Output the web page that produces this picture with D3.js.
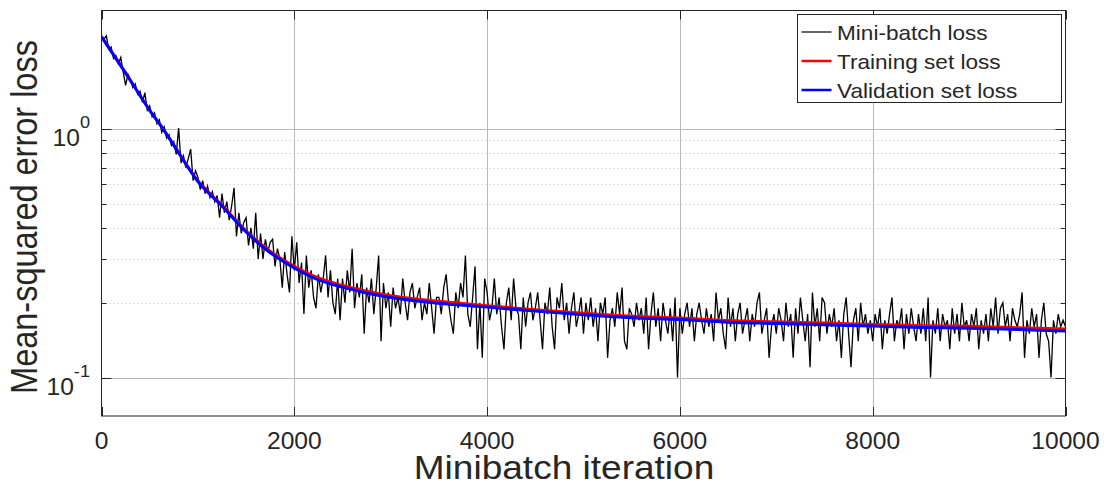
<!DOCTYPE html>
<meta charset="utf-8">
<html><head>
<style>

body { margin: 0; background: #fff; }

text {
  font-family: "Liberation Sans", Arial, sans-serif;
  fill: #262626;
}

.grid line {
  stroke: #b9b9b9;
  stroke-width: 1;
}

.minor line {
  stroke: #d6d6d6;
  stroke-width: 1;
  stroke-dasharray: 1.5,2.5;
}

</style>
</head>
<body>
<svg width="1104" height="486"></svg>
<script src="https://d3js.org/d3.v7.min.js"></script>
<script>

// mini-batch loss, one value every iterStep iterations
var iterStep = 25;
var miniBatchLoss = [
  2.38, 2.30, 2.37, 2.10, 2.14, 1.92, 1.97, 1.83, 1.94, 1.70, 1.50, 1.66, 1.58, 1.47, 1.52, 1.38, 1.42, 1.28, 1.40, 1.19,
  1.24, 1.12, 1.16, 1.05, 1.09, 0.97, 1.02, 0.92, 0.95, 0.86, 0.89, 0.79, 1.01, 0.73, 0.78, 0.70, 0.76, 0.83, 0.62, 0.68,
  0.64, 0.57, 0.62, 0.55, 0.59, 0.53, 0.56, 0.51, 0.54, 0.44, 0.55, 0.46, 0.51, 0.43, 0.49, 0.58, 0.37, 0.46, 0.38, 0.42,
  0.44, 0.34, 0.40, 0.33, 0.46, 0.30, 0.38, 0.30, 0.36, 0.32, 0.35, 0.36, 0.28, 0.33, 0.30, 0.23, 0.32, 0.26, 0.22, 0.37,
  0.27, 0.35, 0.24, 0.29, 0.18, 0.31, 0.23, 0.27, 0.21, 0.19, 0.26, 0.22, 0.25, 0.31, 0.21, 0.27, 0.20, 0.18, 0.25, 0.17,
  0.25, 0.20, 0.27, 0.22, 0.33, 0.19, 0.24, 0.21, 0.26, 0.15, 0.23, 0.20, 0.25, 0.18, 0.23, 0.31, 0.14, 0.24, 0.19, 0.22,
  0.16, 0.23, 0.19, 0.21, 0.18, 0.25, 0.20, 0.17, 0.22, 0.24, 0.19, 0.21, 0.23, 0.17, 0.20, 0.18, 0.24, 0.19, 0.15, 0.21,
  0.21, 0.18, 0.23, 0.26, 0.20, 0.17, 0.15, 0.22, 0.19, 0.24, 0.21, 0.31, 0.18, 0.16, 0.21, 0.28, 0.13, 0.20, 0.12, 0.25,
  0.22, 0.17, 0.19, 0.25, 0.18, 0.21, 0.16, 0.13, 0.20, 0.23, 0.17, 0.25, 0.19, 0.18, 0.13, 0.21, 0.16, 0.20, 0.22, 0.17,
  0.19, 0.22, 0.17, 0.13, 0.20, 0.18, 0.23, 0.16, 0.13, 0.21, 0.19, 0.24, 0.17, 0.20, 0.15, 0.19, 0.22, 0.16, 0.18, 0.21,
  0.15, 0.20, 0.17, 0.21, 0.16, 0.19, 0.14, 0.20, 0.18, 0.21, 0.12, 0.17, 0.19, 0.16, 0.22, 0.18, 0.23, 0.14, 0.13, 0.19,
  0.18, 0.16, 0.20, 0.17, 0.19, 0.15, 0.21, 0.13, 0.18, 0.22, 0.16, 0.19, 0.14, 0.20, 0.17, 0.15, 0.19, 0.14, 0.21, 0.10,
  0.19, 0.15, 0.18, 0.20, 0.16, 0.19, 0.14, 0.18, 0.20, 0.17, 0.15, 0.19, 0.16, 0.18, 0.14, 0.22, 0.17, 0.19, 0.15, 0.13,
  0.21, 0.16, 0.19, 0.14, 0.18, 0.20, 0.15, 0.17, 0.19, 0.14, 0.18, 0.16, 0.20, 0.22, 0.15, 0.17, 0.19, 0.12, 0.16, 0.18,
  0.15, 0.19, 0.17, 0.14, 0.20, 0.16, 0.18, 0.12, 0.19, 0.15, 0.21, 0.17, 0.14, 0.18, 0.11, 0.22, 0.16, 0.19, 0.14, 0.21,
  0.20, 0.15, 0.18, 0.16, 0.19, 0.14, 0.17, 0.12, 0.18, 0.21, 0.15, 0.11, 0.17, 0.19, 0.14, 0.20, 0.16, 0.18, 0.15, 0.17,
  0.14, 0.18, 0.16, 0.19, 0.13, 0.17, 0.15, 0.18, 0.21, 0.14, 0.17, 0.16, 0.19, 0.13, 0.18, 0.15, 0.19, 0.16, 0.14, 0.18,
  0.15, 0.19, 0.14, 0.21, 0.10, 0.17, 0.15, 0.19, 0.14, 0.18, 0.16, 0.17, 0.13, 0.19, 0.15, 0.18, 0.14, 0.20, 0.16, 0.17,
  0.14, 0.18, 0.16, 0.19, 0.13, 0.17, 0.15, 0.18, 0.14, 0.19, 0.16, 0.21, 0.15, 0.19, 0.20, 0.16, 0.18, 0.14, 0.19, 0.17,
  0.16, 0.18, 0.22, 0.12, 0.17, 0.15, 0.19, 0.16, 0.18, 0.12, 0.17, 0.20, 0.15, 0.14, 0.10, 0.17, 0.15, 0.18, 0.16, 0.17, 0.16
];

// smooth curves, sampled at these iterations
var smoothIter = [0, 250, 500, 640, 750, 1000, 1250, 1500, 1750, 2000, 2250, 2500, 2750, 3000,
                  3500, 4000, 4500, 5000, 5500, 6000, 6500, 7000, 7500, 8000, 8500, 9000, 9500, 10000];
var trainingLoss = [2.36, 1.69, 1.19, 1.0, 0.865, 0.62, 0.495, 0.39, 0.323, 0.281, 0.252, 0.235, 0.223, 0.214,
                    0.203, 0.195, 0.188, 0.182, 0.177, 0.174, 0.170, 0.168, 0.166, 0.164, 0.162, 0.161, 0.159, 0.157];
var validationLoss = [2.35, 1.68, 1.19, 1.0, 0.86, 0.615, 0.49, 0.385, 0.318, 0.276, 0.247, 0.231, 0.219, 0.21,
                      0.199, 0.192, 0.185, 0.179, 0.174, 0.171, 0.167, 0.165, 0.163, 0.161, 0.159, 0.158, 0.156, 0.154];

var xTicks = [0, 2000, 4000, 6000, 8000, 10000];
var yMajor = [0.1, 1];
var yMajorExp = ["-1", "0"];
var yMinor = [0.2, 0.3, 0.4, 0.5, 0.6, 0.7, 0.8, 0.9];
var legendLabels = ["Mini-batch loss", "Training set loss", "Validation set loss"];
var legendColors = ["#000000", "#ff0000", "#0000ff"];

var svg = d3.select("svg"),
    pLeft = 101.5, pRight = 1065.5, pTop = 10.5, pBottom = 416;

var x = d3.scaleLinear().domain([0, 10000]).range([pLeft, pRight]);
var y = d3.scaleLog().domain([0.07, 3]).range([pBottom, pTop]);

// glyphs in the original are a bit wider than Liberation Sans, so stretch them
function stretchedText(g, px, py, str, size, anchor, sx, rot) {
  var t = g.append("g")
      .attr("transform", "translate(" + px + "," + py + ") scale(" + sx + ",1)" + (rot ? " rotate(" + rot + ")" : ""))
    .append("text")
      .attr("font-size", size)
      .attr("text-anchor", anchor)
      .text(str);
  return t;
}

svg.append("clipPath").attr("id", "plotclip")
  .append("rect")
    .attr("x", pLeft).attr("y", pTop)
    .attr("width", pRight - pLeft).attr("height", pBottom - pTop);

// grid
var minor = svg.append("g").attr("class", "minor");
minor.selectAll("line").data(yMinor).enter().append("line")
    .attr("x1", pLeft).attr("x2", pRight)
    .attr("y1", function(d) { return Math.round(y(d)) + 0.5; })
    .attr("y2", function(d) { return Math.round(y(d)) + 0.5; });

var grid = svg.append("g").attr("class", "grid");
grid.selectAll("line.gx").data(xTicks.slice(1, -1)).enter().append("line")
    .attr("class", "gx")
    .attr("x1", function(d) { return Math.round(x(d)) + 0.5; })
    .attr("x2", function(d) { return Math.round(x(d)) + 0.5; })
    .attr("y1", pTop).attr("y2", pBottom);
grid.selectAll("line.gy").data(yMajor).enter().append("line")
    .attr("class", "gy")
    .attr("x1", pLeft).attr("x2", pRight)
    .attr("y1", function(d) { return Math.round(y(d)) + 0.5; })
    .attr("y2", function(d) { return Math.round(y(d)) + 0.5; });

// series
var plot = svg.append("g").attr("clip-path", "url(#plotclip)");

var miniLine = d3.line()
    .x(function(d, i) { return x(i * iterStep); })
    .y(function(d) { return y(d); });

plot.append("path")
    .datum(miniBatchLoss)
    .attr("fill", "none")
    .attr("stroke", "#000")
    .attr("stroke-width", 1.3)
    .attr("d", miniLine);

var smoothLine = d3.line()
    .x(function(d, i) { return x(smoothIter[i]); })
    .y(function(d) { return y(d); })
    .curve(d3.curveMonotoneX);

plot.append("path")
    .datum(trainingLoss)
    .attr("fill", "none")
    .attr("stroke", "#ff0000")
    .attr("stroke-width", 2.5)
    .attr("d", smoothLine);

plot.append("path")
    .datum(validationLoss)
    .attr("fill", "none")
    .attr("stroke", "#0000ff")
    .attr("stroke-width", 3)
    .attr("d", smoothLine);

// axes box and ticks
var axes = svg.append("g")
    .attr("stroke", "#262626")
    .attr("stroke-width", 1)
    .attr("fill", "none");

axes.append("rect")
    .attr("x", pLeft).attr("y", pTop)
    .attr("width", pRight - pLeft).attr("height", pBottom - pTop);

xTicks.forEach(function(d) {
  var px = Math.round(x(d)) + 0.5;
  axes.append("line").attr("x1", px).attr("x2", px).attr("y1", pBottom).attr("y2", pBottom - 9);
  axes.append("line").attr("x1", px).attr("x2", px).attr("y1", pTop).attr("y2", pTop + 9);
});
yMajor.forEach(function(d) {
  var py = Math.round(y(d)) + 0.5;
  axes.append("line").attr("x1", pLeft).attr("x2", pLeft + 10).attr("y1", py).attr("y2", py);
  axes.append("line").attr("x1", pRight).attr("x2", pRight - 10).attr("y1", py).attr("y2", py);
});
yMinor.forEach(function(d) {
  var py = Math.round(y(d)) + 0.5;
  axes.append("line").attr("x1", pLeft).attr("x2", pLeft + 5).attr("y1", py).attr("y2", py);
  axes.append("line").attr("x1", pRight).attr("x2", pRight - 5).attr("y1", py).attr("y2", py);
});

// tick labels
var labels = svg.append("g");
xTicks.forEach(function(d) {
  stretchedText(labels, x(d), 449, d3.format("d")(d), 23, "middle", 1.07);
});
yMajor.forEach(function(d, i) {
  var t = stretchedText(labels, 90, y(d) + 17, "", 23, "end", 1.07);
  t.append("tspan").text("10");
  t.append("tspan").attr("font-size", 17).attr("dy", -18).text(yMajorExp[i]);
});

// axis titles
stretchedText(labels, 564, 479, "Minibatch iteration", 32.5, "middle", 1.14);
stretchedText(labels, 37, 217, "Mean-squared error loss", 32.5, "middle", 1.13, -90);

// legend
var legend = svg.append("g");
legend.append("rect")
    .attr("x", 797.5).attr("y", 14.5)
    .attr("width", 264).attr("height", 88)
    .attr("fill", "#fff")
    .attr("stroke", "#262626")
    .attr("stroke-width", 1);

legendLabels.forEach(function(name, i) {
  var cy = 32 + i * 29;
  legend.append("line")
      .attr("x1", 801.5).attr("x2", 831.5)
      .attr("y1", cy).attr("y2", cy)
      .attr("stroke", legendColors[i])
      .attr("stroke-width", i === 0 ? 1.2 : 2.5);
  stretchedText(legend, 837, cy + 7.5, name, 20, "start", 1.13).attr("fill", "#000");
});

</script>
</body>
</html>
